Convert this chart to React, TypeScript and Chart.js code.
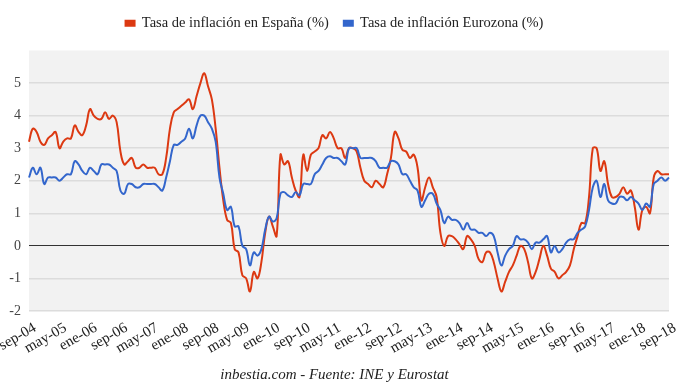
import React, { useEffect, useRef } from "react";
import { Chart, registerables } from "chart.js";

Chart.register(...registerables);

// Monthly series from sep-2004 to sep-2018
const MONTH_ABBR = ["ene", "feb", "mar", "abr", "may", "jun", "jul", "ago", "sep", "oct", "nov", "dic"];
const START_YEAR = 2004;
const START_MONTH = 8; // sep
const N_MONTHS = 169;

const espana = [
  3.2, 3.6, 3.5, 3.2,
  3.1, 3.3, 3.4, 3.5, 3.0, 3.2, 3.3, 3.3, 3.7, 3.5, 3.4, 3.7,
  4.2, 4.0, 3.9, 3.9, 4.1, 3.9, 4.0, 3.8, 2.9, 2.5, 2.6, 2.7,
  2.4, 2.4, 2.5, 2.4, 2.4, 2.4, 2.2, 2.2, 2.7, 3.6, 4.1, 4.2,
  4.3, 4.4, 4.5, 4.2, 4.6, 5.0, 5.3, 4.9, 4.5, 3.6, 2.4, 1.4,
  0.8, 0.7, -0.1, -0.2, -0.9, -1.0, -1.4, -0.8, -1.0, -0.5, 0.4, 0.9,
  0.6, 0.3, 2.8, 2.5, 2.6, 2.1, 1.7, 1.5, 2.8, 2.3, 2.8, 2.9,
  3.0, 3.4, 3.3, 3.5, 3.3, 3.0, 3.0, 2.7, 3.0, 3.0, 2.9, 2.4,
  2.0, 1.9, 1.8, 2.0, 1.9, 1.8, 2.2, 2.7, 3.5, 3.3, 2.95, 2.9,
  2.7, 2.8, 2.4, 1.4, 1.8, 2.1, 1.8, 1.5, 0.4, 0.0, 0.3, 0.3,
  0.2, 0.05, -0.1, 0.3, 0.2, 0.0, -0.4, -0.5, -0.2, -0.2, -0.5, -1.0,
  -1.4, -1.1, -0.8, -0.6, -0.3, 0.0, -0.1, -0.5, -1.0, -0.8, -0.4, 0.0,
  -0.3, -0.7, -0.8, -1.0, -0.9, -0.8, -0.6, -0.1, 0.3, 0.7, 0.7, 1.5,
  3.0, 3.0, 2.3, 2.6, 1.9, 1.5, 1.5, 1.6, 1.8, 1.6, 1.7, 1.2,
  0.5, 1.1, 1.2, 1.0, 2.1, 2.3, 2.2, 2.2, 2.2,
];

const eurozona = [
  2.1, 2.4, 2.2, 2.4,
  1.9, 2.1, 2.1, 2.1, 2.0, 2.1, 2.2, 2.2, 2.6, 2.5, 2.3, 2.2,
  2.4, 2.3, 2.2, 2.5, 2.5, 2.5, 2.4, 2.3, 1.7, 1.6, 1.9, 1.9,
  1.8, 1.8, 1.9, 1.9, 1.9, 1.9, 1.8, 1.7, 2.1, 2.6, 3.1, 3.1,
  3.2, 3.3, 3.6, 3.3, 3.7, 4.0, 4.0, 3.8, 3.6, 3.2, 2.1, 1.6,
  1.1, 1.2, 0.6, 0.6, 0.0, -0.1, -0.6, -0.2, -0.3, -0.1, 0.5, 0.9,
  0.75, 0.85, 1.6, 1.65, 1.55, 1.5, 1.65, 1.55, 1.9, 1.9, 1.9, 2.2,
  2.3, 2.5, 2.7, 2.75, 2.7, 2.7, 2.6, 2.5, 3.0, 3.0, 3.0, 2.7,
  2.7, 2.7, 2.7, 2.6, 2.4, 2.4, 2.4, 2.6, 2.6, 2.5, 2.2, 2.2,
  2.0, 1.8, 1.7, 1.2, 1.4, 1.6, 1.6, 1.3, 1.1, 0.7, 0.9, 0.8,
  0.8, 0.7, 0.5, 0.7, 0.5, 0.5, 0.4, 0.4, 0.3, 0.4, 0.3, -0.2,
  -0.6, -0.3, -0.1, 0.0, 0.3, 0.2, 0.2, 0.1, -0.1, 0.1, 0.1, 0.2,
  0.3, -0.2, 0.0, -0.2, -0.1, 0.1, 0.2, 0.2, 0.4, 0.5, 0.6, 1.1,
  1.8, 2.0, 1.5, 1.9, 1.4, 1.3, 1.3, 1.5, 1.5, 1.4, 1.5, 1.4,
  1.3, 1.1, 1.3, 1.2, 1.9, 2.0, 2.1, 2.0, 2.1,
];

const TICK_EVERY = 8;
const seriesNames = ["Tasa de inflación en España (%)", "Tasa de inflación Eurozona (%)"];
const seriesColors = ["#dc3912", "#3366cc"];
const footerText = "inbestia.com - Fuente: INE y Eurostat";

const categories: string[] = [];
for (let i = 0; i < N_MONTHS; i++) {
  const m = (START_MONTH + i) % 12;
  const y = START_YEAR + Math.floor((START_MONTH + i) / 12);
  categories.push(`${MONTH_ABBR[m]}-${String(y % 100).padStart(2, "0")}`);
}

const FONT = "'Liberation Serif', serif";

const bgPlugin = {
  id: "plotBg",
  beforeLayout(chart: any) {
    const lg = chart.legend;
    if (lg && !lg.__patched) {
      const orig = lg.fit.bind(lg);
      lg.fit = function () {
        orig();
        this.height += 10;
      };
      lg.__patched = true;
    }
  },
  beforeDraw(chart: any) {
    const { ctx, chartArea } = chart;
    if (!chartArea) return;
    ctx.save();
    ctx.fillStyle = "#f2f2f2";
    ctx.fillRect(chartArea.left, chartArea.top, chartArea.right - chartArea.left, chartArea.bottom - chartArea.top);
    ctx.restore();
  },
};

export default function App() {
  const ref = useRef<HTMLCanvasElement | null>(null);

  useEffect(() => {
    document.body.style.margin = "0";
    const canvas = ref.current;
    if (!canvas) return;
    const chart = new Chart(canvas, {
      type: "line",
      data: {
        labels: categories,
        datasets: [
          {
            label: seriesNames[0],
            data: espana,
            borderColor: seriesColors[0],
            backgroundColor: seriesColors[0],
            borderWidth: 2,
            pointRadius: 0,
            tension: 0.4,
            order: 1,
          },
          {
            label: seriesNames[1],
            data: eurozona,
            borderColor: seriesColors[1],
            backgroundColor: seriesColors[1],
            borderWidth: 2,
            pointRadius: 0,
            tension: 0.4,
            order: 0,
          },
        ],
      },
      options: {
        animation: false,
        responsive: false,
        maintainAspectRatio: false,
        layout: { padding: { left: 0, right: 11, top: 1, bottom: 0 } },
        plugins: {
          tooltip: { enabled: false },
          legend: {
            position: "top",
            align: "center",
            labels: {
              boxWidth: 9,
              boxHeight: 5,
              padding: 15,
              color: "#222",
              font: { family: FONT, size: 14.5 },
              sort: (a: any, b: any) => a.datasetIndex - b.datasetIndex,
            },
          },
          title: {
            display: true,
            position: "bottom",
            text: footerText,
            color: "#222",
            font: { family: FONT, size: 15, style: "italic", weight: "normal" },
            padding: { top: 0, bottom: 4 },
          },
        },
        scales: {
          x: {
            type: "category",
            offset: false,
            grid: { display: false, drawTicks: false },
            border: { display: false },
            ticks: {
              autoSkip: false,
              minRotation: 30,
              maxRotation: 30,
              padding: 8,
              labelOffset: 6,
              color: "#222",
              font: { family: FONT, size: 15 },
              callback: (_v: any, idx: number) => (idx % TICK_EVERY === 0 ? categories[idx] : null),
            },
            afterFit: (scale: any) => {
              scale.height = 55;
              scale.paddingLeft = 0;
              scale.paddingRight = 0;
            },
          },
          y: {
            min: -2,
            max: 6,
            grid: {
              drawTicks: false,
              color: (c: any) => (c.tick && c.tick.value === 0 ? "#333333" : c.tick && c.tick.value === 6 ? "rgba(0,0,0,0)" : "#dcdcdc"),
              lineWidth: (c: any) => (c.tick && c.tick.value === 0 ? 1 : 1.5),
            },
            border: { display: false },
            ticks: {
              stepSize: 1,
              padding: 8,
              color: "#444",
              font: { family: FONT, size: 14 },
              callback: (v: any) => (v === 6 ? "" : String(v)),
            },
            afterFit: (scale: any) => {
              scale.width = 29;
            },
          },
        },
      },
      plugins: [bgPlugin],
    });
    return () => chart.destroy();
  }, []);

  return <canvas ref={ref} width={680} height={388} style={{ display: "block" }} />;
}
